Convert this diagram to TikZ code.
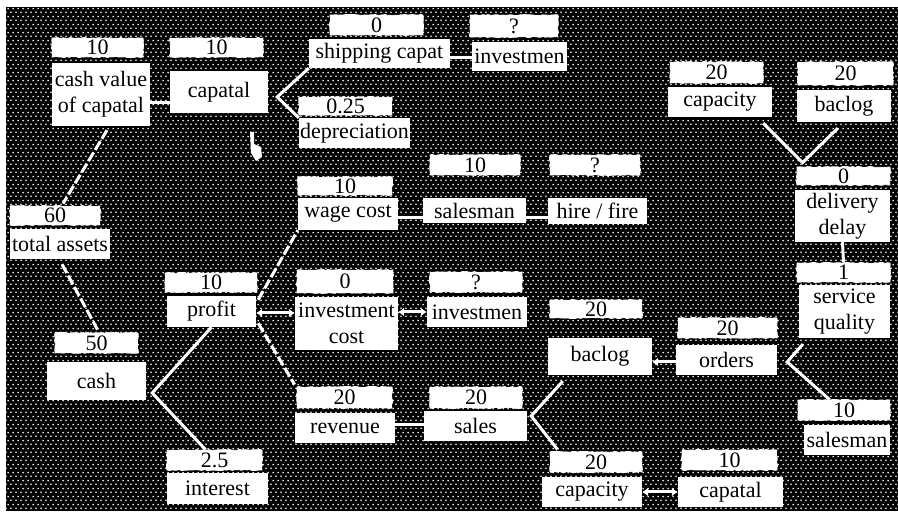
\documentclass[tikz,border=0pt]{standalone}
\usepackage{fontspec}
\setmainfont{Liberation Serif}
\usetikzlibrary{calc,patterns,arrows.meta,decorations.pathmorphing}
\pgfdeclarepatternformonly{wdots}{\pgfpointorigin}{\pgfpoint{5pt}{8pt}}{\pgfpoint{5pt}{8pt}}{%
  \pgfpathcircle{\pgfpoint{1.25pt}{2pt}}{1.05pt}%
  \pgfpathcircle{\pgfpoint{3.75pt}{6pt}}{1.05pt}%
  \pgfusepath{fill}}
\newcommand\bx[7]{\node[#6, minimum width={(#4)-(#2)}, minimum height={(#5)-(#3)}] (#1) at ({((#2)+(#4))/2},{((#3)+(#5))/2}) {#7};}
\newcommand\hlink[4][]{\path ($(#2.east)+(0,#4)$) coordinate (htmp); \draw[wl,#1] (htmp) -- (htmp -| #3.west);}
\begin{document}
\begin{tikzpicture}[x=1pt,y=-1pt,
  lab/.style={fill=white, inner sep=0pt, align=center, font=\fontsize{22}{26}\selectfont},
  val/.style={fill=white, draw=white, line width=0.8pt, inner sep=0pt, font=\fontsize{22}{24}\selectfont,
    decorate, decoration={random steps, segment length=2.5pt, amplitude=0.6pt}},
  wl/.style={draw=white, line width=3pt},
  dl/.style={wl, dash pattern=on 10pt off 3pt},
  tip/.style={{Latex[length=6pt,width=9pt]}-{Latex[length=6pt,width=9pt]}},
  ltip/.style={{Latex[length=6pt,width=9pt]}-}]
\useasboundingbox (0,0) rectangle (898,518);
\fill[white] (0,0) rectangle (898,518);
\fill[black] (6,7) rectangle (898,511);
\fill[pattern=wdots, pattern color=white] (6,7) rectangle (898,511);
% labels
\bx{cva}{52}{63}{150}{126}{lab}{cash value\\of capatal}
\bx{cap}{170}{71}{268}{113}{lab}{capatal}
\bx{ship}{309}{39}{450}{68}{lab}{shipping capat}
\bx{invt}{472}{42}{567}{71}{lab}{investmen}
\bx{depr}{299}{118}{410}{148}{lab}{depreciation}
\bx{wage}{298}{198}{398}{230}{lab}{wage cost}
\bx{salm}{423}{198}{526}{223}{lab}{salesman}
\bx{hire}{548}{198}{647}{224}{lab}{hire / fire}
\bx{tota}{10}{229}{110}{259}{lab}{total assets}
\bx{prof}{167}{296}{256}{327}{lab}{profit}
\bx{cash}{47}{362}{146}{400}{lab}{cash}
\bx{intr}{167}{473}{268}{504}{lab}{interest}
\bx{invc}{295}{297}{398}{350}{lab}{investment\\cost}
\bx{invm}{427}{297}{527}{327}{lab}{investmen}
\bx{bacm}{548}{338}{652}{375}{lab}{baclog}
\bx{ordr}{676}{345}{777}{375}{lab}{orders}
\bx{reve}{295}{413}{395}{443}{lab}{revenue}
\bx{sale}{424}{411}{527}{441}{lab}{sales}
\bx{capb}{542}{477}{642}{507}{lab}{capacity}
\bx{cptb}{678}{477}{783}{507}{lab}{capatal}
\bx{salr}{804}{425}{890}{455}{lab}{salesman}
\bx{serv}{799}{285}{890}{338}{lab}{service\\quality}
\bx{deli}{795}{190}{890}{242}{lab}{delivery\\delay}
\bx{capt}{668}{87}{772}{117}{lab}{capacity}
\bx{bact}{797}{90}{891}{122}{lab}{baclog}
% values
\bx{v-cva}{52}{38}{143}{57}{val}{10}
\bx{v-cap}{170}{38}{263}{57}{val}{10}
\bx{v-ship}{330}{15}{423}{35}{val}{0}
\bx{v-invt}{470}{15}{558}{37}{val}{?}
\bx{v-depr}{299}{97}{392}{115}{val}{0.25}
\bx{v-wage}{298}{177}{392}{195}{val}{10}
\bx{v-salm}{430}{155}{520}{175}{val}{10}
\bx{v-hire}{550}{155}{640}{175}{val}{?}
\bx{v-tota}{10}{206}{100}{225}{val}{60}
\bx{v-prof}{165}{273}{257}{292}{val}{10}
\bx{v-cash}{55}{333}{138}{353}{val}{50}
\bx{v-intr}{167}{450}{262}{470}{val}{2.5}
\bx{v-invc}{297}{270}{393}{293}{val}{0}
\bx{v-invm}{430}{272}{522}{292}{val}{?}
\bx{v-bacm}{550}{300}{642}{318}{val}{20}
\bx{v-ordr}{678}{318}{777}{338}{val}{20}
\bx{v-reve}{297}{387}{392}{408}{val}{20}
\bx{v-sale}{430}{387}{522}{408}{val}{20}
\bx{v-capb}{550}{452}{642}{472}{val}{20}
\bx{v-cptb}{682}{450}{777}{470}{val}{10}
\bx{v-salr}{798}{400}{890}{420}{val}{10}
\bx{v-serv}{797}{263}{890}{282}{val}{1}
\bx{v-deli}{797}{167}{890}{185}{val}{0}
\bx{v-capt}{670}{62}{763}{83}{val}{20}
\bx{v-bact}{798}{62}{893}{85}{val}{20}
% short horizontal links
\hlink{cva}{cap}{8.5}
\hlink{ship}{invt}{4.5}
\hlink{wage}{salm}{4}
\hlink{salm}{hire}{7.5}
\hlink[tip]{prof}{invc}{1.5}
\hlink[tip]{invc}{invm}{-11.5}
\hlink{reve}{sale}{-3}
\hlink[ltip]{bacm}{ordr}{5.5}
\hlink[tip]{capb}{cptb}{0}
% diagonal links
\draw[wl] (ship.south west) -- ($(cap.east)+(9,5)$) -- (depr.north west);
\draw[dl] ($(cva.south)+(6,4)$) -- ($(v-tota.north)+(8,-2)$);
\draw[dl] ($(tota.south)+(2,5)$) -- ($(v-cash.north)+(1,-3)$);
\draw[wl] (prof.south) -- ($(cash.east)+(6,12)$) -- ($(v-intr.north)+(-9,0)$);
\draw[dl] ($(prof.north east)+(2,4)$) -- (wage.south west);
\draw[dl] ($(prof.south east)+(2,-4)$) -- ($(v-reve.north west)+(-2,-2)$);
\draw[wl] ($(bacm.south west)+(15,6)$) -- ($(sale.east)+(4,-10)$) -- ($(v-capb.north west)+(8,-2)$);
\draw[wl] ($(serv.south west)+(4,6)$) -- ($(ordr.east)+(10,2)$) -- ($(v-salr.north west)+(32,0)$);
\draw[wl] ($(capt.south east)+(-9,6)$) -- ($(v-deli.north west)+(6,-4)$) -- ($(bact.south west)+(41,6)$);
\draw[wl] (deli.south) -- (v-serv.north);
% cursor mark
\fill[white] (250,132) -- (254,132) -- (254,144) -- (261,147) -- (262,157) -- (256,161) -- (251,153) -- cycle;
\end{tikzpicture}
\end{document}
